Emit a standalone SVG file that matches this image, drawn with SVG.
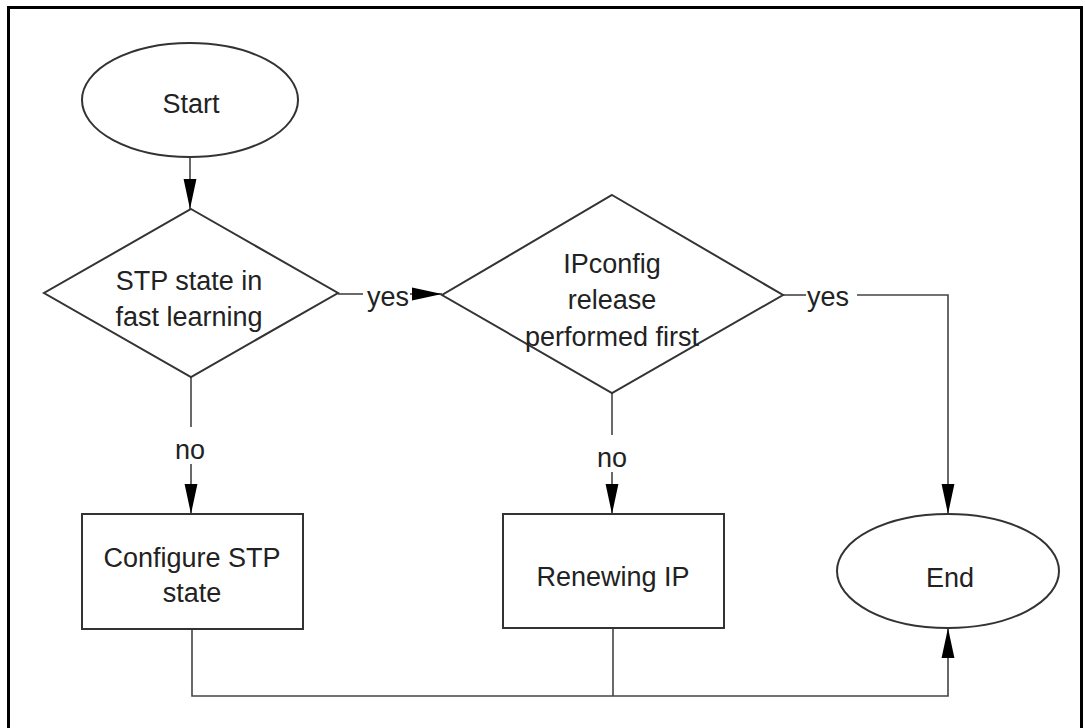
<svg xmlns="http://www.w3.org/2000/svg" width="1085" height="728" viewBox="0 0 1085 728">
  <style>
    .node { fill: #ffffff; stroke: #333333; stroke-width: 2; }
    .edge { fill: none; stroke: #444444; stroke-width: 1.6; }
    .t { font-family: "Liberation Sans", Arial, sans-serif; font-size: 27px; fill: #222222; text-anchor: middle; }
    .lbl { font-family: "Liberation Sans", Arial, sans-serif; font-size: 27px; fill: #222222; }
  </style>
  <defs>
    <marker id="arrow" markerUnits="userSpaceOnUse" markerWidth="30" markerHeight="14" viewBox="0 0 28 12" refX="28" refY="6" orient="auto">
      <path d="M0,0 L28,6 L0,12 Z" fill="#000000"/>
    </marker>
  </defs>
  <rect x="0" y="0" width="1085" height="728" fill="#ffffff"/>
  <path d="M8.5,735 V7.5 H1081.5 V735" fill="none" stroke="#000000" stroke-width="3"/>

  <g id="connectors">
    <path class="edge" d="M190,157 V209" marker-end="url(#arrow)"/>
    <path class="edge" d="M338,294 H363"/>
    <path class="edge" d="M410,294 H442" marker-end="url(#arrow)"/>
    <path class="edge" d="M191,377 V427"/>
    <path class="edge" d="M191,464 V514" marker-end="url(#arrow)"/>
    <path class="edge" d="M612,393 V435"/>
    <path class="edge" d="M612,472 V514" marker-end="url(#arrow)"/>
    <path class="edge" d="M783,295 H806"/>
    <path class="edge" d="M857,295 H948 V514" marker-end="url(#arrow)"/>
    <path class="edge" d="M192,629 V696 H948 V628" marker-end="url(#arrow)"/>
    <path class="edge" d="M613,628 V696"/>
    <text class="lbl" x="367" y="306">yes</text>
    <text class="t" x="190" y="459">no</text>
    <text class="t" x="612" y="467">no</text>
    <text class="lbl" x="807" y="306">yes</text>
  </g>

  <g id="start">
    <ellipse class="node" cx="190" cy="100" rx="108" ry="57"/>
    <text class="t" x="191" y="113">Start</text>
  </g>

  <g id="decision-stp">
    <polygon class="node" points="191,209 338,293 191,377 44,293"/>
    <text class="t" x="189" y="290">STP state in</text>
    <text class="t" x="189" y="326">fast learning</text>
  </g>

  <g id="decision-ipconfig">
    <polygon class="node" points="612,195 783,295 612,393 442,295"/>
    <text class="t" x="612" y="273">IPconfig</text>
    <text class="t" x="612" y="309">release</text>
    <text class="t" x="612" y="346">performed first</text>
  </g>

  <g id="configure-stp">
    <rect class="node" x="82" y="514" width="221" height="115"/>
    <text class="t" x="192" y="567">Configure STP</text>
    <text class="t" x="192" y="602">state</text>
  </g>

  <g id="renewing-ip">
    <rect class="node" x="503" y="514" width="221" height="114"/>
    <text class="t" x="613" y="586">Renewing IP</text>
  </g>

  <g id="end">
    <ellipse class="node" cx="948" cy="571" rx="111" ry="57"/>
    <text class="t" x="950" y="587">End</text>
  </g>
</svg>
